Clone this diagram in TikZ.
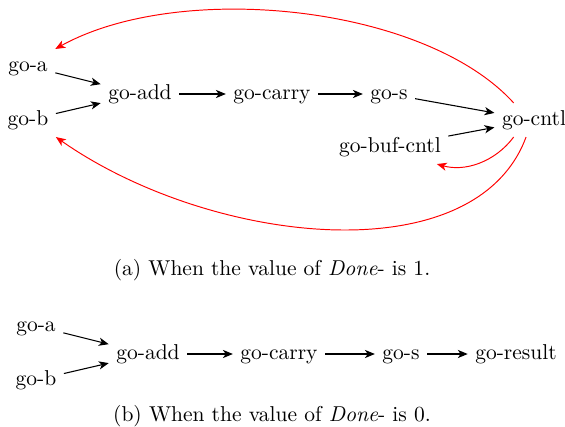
\documentclass[tikz,border=0pt]{standalone}
\usetikzlibrary{arrows.meta}
\begin{document}
\begin{tikzpicture}[x=0.465pt,y=-0.465pt,
  lbl/.style={inner sep=3.33pt, font=\normalsize, text height=6.9pt, text depth=1.9pt},
  captext/.style={inner sep=3.33pt, font=\normalsize},
  flow/.style={-{Stealth[length=4.6pt,width=3.8pt,inset=1.3pt]}, line width=0.5pt, black},
  back/.style={-{Stealth[length=4.6pt,width=3.8pt,inset=1.3pt]}, line width=0.45pt, red}]
\useasboundingbox (0,0) rectangle (565,427);
% (a)
\node[lbl] (a) at (28,66) {go-a};
\node[lbl] (b) at (28,120) {go-b};
\node[lbl] (add) at (140,94) {go-add};
\node[lbl] (carry) at (272,94) {go-carry};
\node[lbl] (s) at (389,94) {go-s};
\node[lbl] (cntl) at (534,120) {go-cntl};
\node[lbl] (buf) at (390,147) {go-buf-cntl};
\node[captext] (capa) at (272,270) {(a) When the value of \textit{Done}- is 1.};
\draw[flow] (a) -- (add);
\draw[flow] (b) -- (add);
\draw[flow] (add) -- (carry);
\draw[flow] (carry) -- (s);
\draw[flow] (s) -- (cntl);
\draw[flow] (buf) -- (cntl);
\draw[back] (cntl.140) .. controls (425,5) and (180,-20) .. (a.north east);
\draw[back] (cntl.-115) .. controls (475,275) and (210,245) .. (b.south east);
\draw[back] (cntl.-140) .. controls (495,162) and (465,172) .. (buf.-20);
% (b)
\node[lbl] (a2) at (36,326) {go-a};
\node[lbl] (b2) at (36,380) {go-b};
\node[lbl] (add2) at (148,354) {go-add};
\node[lbl] (carry2) at (279,354) {go-carry};
\node[lbl] (s2) at (401,354) {go-s};
\node[lbl] (res2) at (516,354) {go-result};
\node[captext] (capb) at (272,416) {(b) When the value of \textit{Done}- is 0.};
\draw[flow] (a2) -- (add2);
\draw[flow] (b2) -- (add2);
\draw[flow] (add2) -- (carry2);
\draw[flow] (carry2) -- (s2);
\draw[flow] (s2) -- (res2);
\end{tikzpicture}
\end{document}
